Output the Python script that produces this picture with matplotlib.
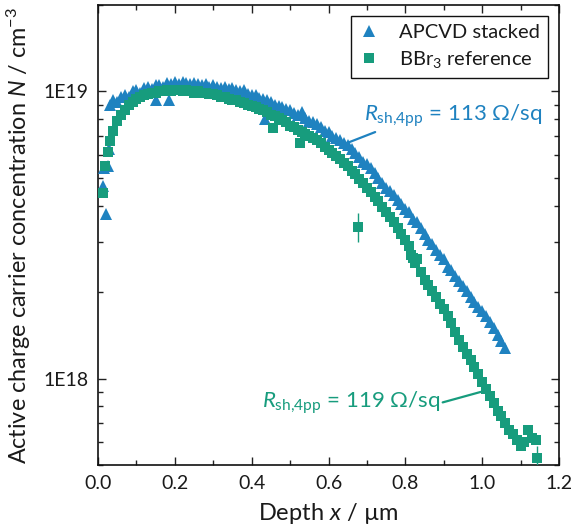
import numpy as np
import matplotlib
matplotlib.use("Agg")
import matplotlib.pyplot as plt
from matplotlib.ticker import FuncFormatter, LogLocator, MultipleLocator, NullFormatter

# ---------------- data (N in units of 1E18 cm^-3) ----------------
apcvd_depth = [0.013, 0.016, 0.021, 0.026, 0.028,
               0.03, 0.04, 0.05, 0.06, 0.07, 0.08, 0.09, 0.10, 0.11, 0.12,
               0.13, 0.14, 0.15, 0.16, 0.17, 0.18, 0.19, 0.20, 0.21, 0.22,
               0.23, 0.24, 0.25, 0.26, 0.27, 0.28, 0.29, 0.30, 0.31, 0.32,
               0.33, 0.34, 0.35, 0.36, 0.37, 0.38, 0.39, 0.40, 0.41, 0.42,
               0.43, 0.44, 0.45, 0.46, 0.47, 0.48, 0.49, 0.50, 0.51, 0.52,
               0.53, 0.54, 0.55, 0.56, 0.57, 0.58, 0.59, 0.60, 0.61, 0.62,
               0.63, 0.64, 0.65, 0.66, 0.67, 0.68, 0.69, 0.70, 0.71, 0.72,
               0.73, 0.74, 0.75, 0.76, 0.77, 0.78, 0.79, 0.80, 0.81, 0.82,
               0.83, 0.84, 0.85, 0.86, 0.87, 0.88, 0.89, 0.90, 0.91, 0.92,
               0.93, 0.94, 0.95, 0.96, 0.97, 0.98, 0.99, 1.00, 1.01, 1.02,
               1.03, 1.04, 1.05, 1.06,
               0.15, 0.185, 0.435]
apcvd_N = [4.7, 5.4, 3.75, 5.5, 6.3,
           9.0, 9.3, 9.2, 9.6, 9.7, 9.6, 10.0, 10.1, 9.9, 10.3,
           10.4, 10.2, 10.5, 10.5, 10.4, 10.7, 10.6, 10.8, 10.6, 10.8,
           10.7, 10.6, 10.7, 10.6, 10.5, 10.6, 10.4, 10.5, 10.4, 10.3,
           10.4, 10.2, 10.3, 10.1, 10.0, 10.1, 9.8, 9.7, 9.7, 9.5,
           9.4, 9.3, 9.2, 9.0, 8.9, 8.8, 8.7, 8.6, 8.4, 8.3,
           8.5, 8.1, 7.9, 7.8, 7.7, 7.5, 7.3, 7.2, 7.0, 6.9,
           6.8, 6.6, 6.5, 6.3, 6.1, 5.9, 5.7, 5.6, 5.4, 5.2,
           5.0, 4.8, 4.6, 4.5, 4.35, 4.2, 4.05, 3.9, 3.8, 3.6,
           3.5, 3.35, 3.2, 3.05, 2.95, 2.8, 2.7, 2.6, 2.45, 2.38,
           2.28, 2.18, 2.1, 2.02, 1.93, 1.85, 1.78, 1.72, 1.65, 1.57,
           1.50, 1.42, 1.35, 1.28,
           9.3, 9.35, 8.0]

bbr3_depth = [0.013, 0.018, 0.026,
              0.03, 0.04, 0.05, 0.06, 0.07, 0.08, 0.09, 0.10, 0.11, 0.12,
              0.13, 0.14, 0.15, 0.16, 0.17, 0.18, 0.19, 0.20, 0.21, 0.22,
              0.23, 0.24, 0.25, 0.26, 0.27, 0.28, 0.29, 0.30, 0.31, 0.32,
              0.33, 0.34, 0.35, 0.36, 0.37, 0.38, 0.39, 0.40, 0.41, 0.42,
              0.43, 0.44, 0.45, 0.46, 0.47, 0.48, 0.49, 0.50, 0.51, 0.52,
              0.53, 0.54, 0.55, 0.56, 0.57, 0.58, 0.59, 0.60, 0.61, 0.62,
              0.63, 0.64, 0.65, 0.66, 0.67, 0.68, 0.69, 0.70, 0.71, 0.72,
              0.73, 0.74, 0.75, 0.76, 0.77, 0.78, 0.79, 0.80, 0.81, 0.82,
              0.83, 0.84, 0.85, 0.86, 0.87, 0.88, 0.89, 0.90, 0.91, 0.92,
              0.93, 0.94, 0.95, 0.96, 0.97, 0.98, 0.99, 1.00, 1.01, 1.02,
              1.03, 1.04, 1.05, 1.06, 1.07, 1.08, 1.09, 1.10, 1.11, 1.12,
              1.13, 1.14,
              0.456, 0.526, 0.825, 0.815]
bbr3_N = [4.43, 5.5, 6.15,
          6.7, 7.3, 7.9, 8.3, 8.6, 9.0, 9.2, 9.4, 9.6, 9.7,
          9.8, 9.9, 9.9, 10.0, 10.0, 10.1, 10.0, 10.1, 10.1, 10.0,
          10.1, 10.0, 9.9, 10.0, 9.9, 9.9, 9.8, 9.8, 9.7, 9.6,
          9.6, 9.4, 9.3, 9.3, 9.2, 9.1, 9.0, 8.9, 8.8, 8.7,
          8.6, 8.5, 8.3, 8.2, 8.1, 7.95, 7.8, 7.6, 7.5, 7.35,
          7.2, 7.1, 7.0, 6.9, 6.8, 6.6, 6.4, 6.25, 6.1, 5.95,
          5.8, 5.65, 5.5, 5.3, 5.15, 4.95, 4.8, 4.6, 4.45, 4.3,
          4.15, 3.95, 3.8, 3.65, 3.5, 3.35, 3.2, 3.05, 2.9, 2.62,
          2.6, 2.35, 2.2, 2.12, 2.02, 1.92, 1.82, 1.74, 1.65, 1.56,
          1.45, 1.36, 1.29, 1.22, 1.16, 1.10, 1.04, 0.97, 0.92, 0.87,
          0.82, 0.77, 0.74, 0.70, 0.66, 0.64, 0.61, 0.58, 0.60, 0.66,
          0.62, 0.61,
          7.45, 6.6, 2.52, 2.7]

bbr3_err_depth = [0.677, 1.143]
bbr3_err_N = [3.37, 0.53]
bbr3_err_lo = [0.38, 0.06]
bbr3_err_hi = [0.39, 0.05]

legend_labels = ["APCVD stacked", "BBr$_3$ reference"]
annot_texts = ["$R_{\\mathrm{sh{,}4pp}}$ = 113 \u03a9/sq",
               "$R_{\\mathrm{sh{,}4pp}}$ = 119 \u03a9/sq"]

BLUE = "#1f82c0"
GREEN = "#179c7d"
TXT = "#1a1a1a"

plt.rcParams["font.family"] = ["Lato", "DejaVu Sans"]
plt.rcParams["mathtext.fontset"] = "custom"
plt.rcParams["mathtext.rm"] = "Lato"
plt.rcParams["mathtext.it"] = "Lato:italic"
plt.rcParams["mathtext.bf"] = "Lato:bold"

fig = plt.figure(figsize=(5.71, 5.32), dpi=100)
ax = fig.add_axes([98 / 571, 67 / 532, 461 / 571, 460 / 532])

scale = 1e18
ax.plot(apcvd_depth, np.array(apcvd_N) * scale, linestyle="none", marker="^",
        ms=9.2, mew=0, color=BLUE, label=legend_labels[0], zorder=3)
ax.plot(bbr3_depth, np.array(bbr3_N) * scale, linestyle="none", marker="s",
        ms=7.4, mew=0, color=GREEN, label=legend_labels[1], zorder=4)
ax.errorbar(bbr3_err_depth, np.array(bbr3_err_N) * scale,
            yerr=[np.array(bbr3_err_lo) * scale, np.array(bbr3_err_hi) * scale],
            fmt="s", ms=7.4, mew=0, color=GREEN, ecolor=GREEN, elinewidth=1.0,
            capsize=4, capthick=1.2, zorder=4)

ax.set_yscale("log")
ax.set_xlim(0, 1.2)
ax.set_ylim(5e17, 2e19)

ax.xaxis.set_major_locator(MultipleLocator(0.2))
ax.xaxis.set_minor_locator(MultipleLocator(0.1))
ax.xaxis.set_major_formatter(FuncFormatter(lambda v, p: f"{v:.1f}"))
ax.yaxis.set_major_locator(LogLocator(base=10, numticks=10))
ax.yaxis.set_minor_locator(LogLocator(base=10, subs=np.arange(2, 10), numticks=20))
ax.yaxis.set_major_formatter(FuncFormatter(lambda v, p: f"1E{int(round(np.log10(v)))}"))
ax.yaxis.set_minor_formatter(NullFormatter())

ax.tick_params(which="both", direction="in", top=True, right=True, labelsize=14,
               width=1.0, colors="#222222", labelcolor=TXT)
ax.tick_params(which="major", length=6, pad=7)
ax.tick_params(which="minor", length=3.5)
for s in ax.spines.values():
    s.set_linewidth(1.2)
    s.set_color("#111111")

ax.set_xlabel("Depth $x$ / \u00b5m", fontsize=17, color=TXT, labelpad=7)
ax.set_ylabel("Active charge carrier concentration $N$ / cm$^{-3}$", fontsize=16.8,
              color=TXT, labelpad=7)

leg = ax.legend(loc="upper right", fontsize=14.5, frameon=True, fancybox=False,
                framealpha=1, edgecolor="#111111", handlelength=1.0,
                handletextpad=1.0, borderpad=0.4, labelspacing=0.4,
                borderaxespad=0.0, bbox_to_anchor=(0.976, 0.977))
leg.get_frame().set_linewidth(1.0)
for t in leg.get_texts():
    t.set_color(TXT)

ax.annotate(annot_texts[0], xy=(0.648, 6.61e18), xytext=(1.158, 7.89e18),
            textcoords="data", ha="right", va="baseline", fontsize=16, color=BLUE,
            arrowprops=dict(arrowstyle="-", color=BLUE, lw=1.6,
                            shrinkA=0, shrinkB=0, relpos=(0.1, 0.0)))
ax.annotate(annot_texts[1], xy=(0.997, 8.99e17), xytext=(0.89, 7.89e17),
            textcoords="data", ha="right", va="baseline", fontsize=16, color=GREEN,
            arrowprops=dict(arrowstyle="-", color=GREEN, lw=1.6,
                            shrinkA=0, shrinkB=0, relpos=(1.0, 0.5)))

fig.savefig("out.png", dpi=100)
